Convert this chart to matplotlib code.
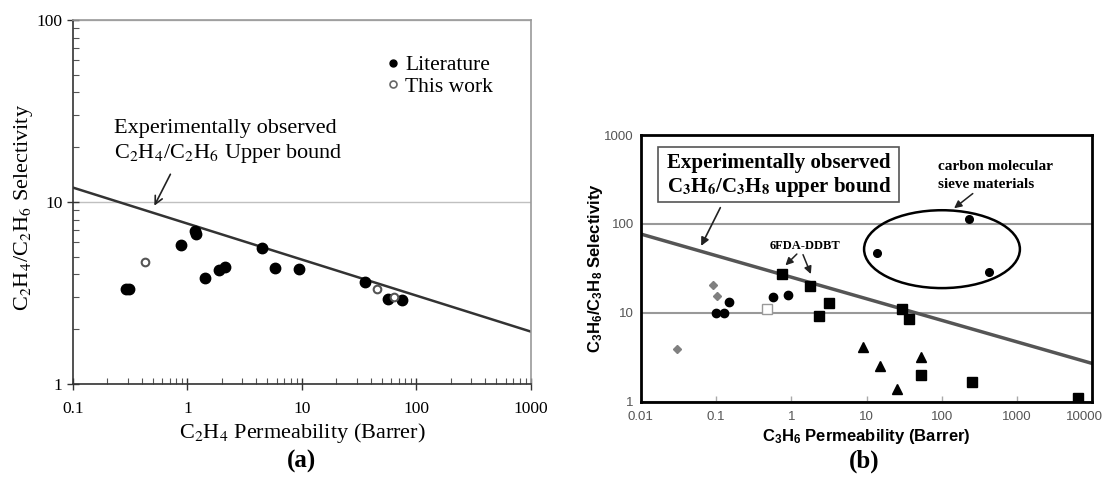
import matplotlib
matplotlib.use('Agg')
from matplotlib import pyplot as plt
from matplotlib.patches import Ellipse, Rectangle
from matplotlib.lines import Line2D
from matplotlib.ticker import NullLocator, NullFormatter
from matplotlib.transforms import ScaledTranslation

# panel (a): C2H4/C2H6 data
lit_perm = [0.29, 0.31, 0.87, 1.17, 1.19, 1.41, 1.90, 2.13, 4.46, 5.83, 9.38, 35.9, 56.6, 75.0]
lit_sel = [3.31, 3.31, 5.82, 6.95, 6.7, 3.82, 4.23, 4.41, 5.61, 4.32, 4.28, 3.62, 2.92, 2.89]
work_perm = [0.428, 45.0, 63.4]
work_sel = [4.66, 3.33, 3.02]
bound_a_perm = [0.1, 1000]
bound_a_sel = [12.0, 1.94]
ticks_a_x = [0.1, 1, 10, 100, 1000]
ticks_a_y = [1, 10, 100]

# panel (b): C3H6/C3H8 data
diamond_perm = [0.092, 0.102, 0.0306]
diamond_sel = [20.5, 15.6, 3.92]
circle_perm = [0.1, 0.129, 0.149, 0.577, 0.896]
circle_sel = [10.0, 10.0, 13.2, 15.2, 15.9]
open_sq_perm = [0.475]
open_sq_sel = [10.9]
square_perm = [0.761, 1.79, 2.31, 3.20, 29.5, 36.6, 52.8, 253, 6360]
square_sel = [27.3, 20.2, 9.2, 13.0, 10.9, 8.5, 2.0, 1.68, 1.09]
triangle_perm = [9.04, 15.2, 25.4, 52.3]
triangle_sel = [4.16, 2.50, 1.38, 3.16]
cms_perm = [13.9, 231, 423]
cms_sel = [47.4, 113, 29.0]
bound_b_perm = [0.01, 10000]
bound_b_sel = [77, 2.69]
ticks_b_x = [0.01, 0.1, 1, 10, 100, 1000, 10000]
ticks_b_y = [1, 10, 100, 1000]

# bold sans maths for panel (b) labels, stix for the serif texts
plt.rcParams['mathtext.fontset'] = 'custom'
plt.rcParams['mathtext.rm'] = 'Liberation Sans:bold'
plt.rcParams['mathtext.bf'] = 'Liberation Sans:bold'
plt.rcParams['mathtext.it'] = 'Liberation Sans:bold:italic'

SERIF = 'Liberation Serif'
SANS = 'Liberation Sans'


def tick_text(v):
    return ('%g' % v)


fig = plt.figure(figsize=(11.07, 4.8), dpi=100)
fig.set_facecolor('white')

# ---------------- panel (a) ----------------
ax = fig.add_axes([0.0659, 0.2, 0.4137, 0.7583])
ax.set_xscale('log')
ax.set_yscale('log')
ax.set_xlim(0.1, 1000)
ax.set_ylim(1, 100)
ax.set_xticks(ticks_a_x)
ax.set_xticklabels([tick_text(v) for v in ticks_a_x])
ax.set_yticks(ticks_a_y)
ax.set_yticklabels([tick_text(v) for v in ticks_a_y])
ax.xaxis.set_minor_formatter(NullFormatter())
ax.yaxis.set_minor_formatter(NullFormatter())
ax.tick_params(which='major', direction='inout', length=8, width=1, color='#333',
               labelsize=12.5, labelfontfamily=SERIF, labelcolor='black')
ax.tick_params(which='minor', direction='in', length=4, width=0.8, color='#555')
ax.tick_params(axis='x', pad=8)

for side in ['left', 'bottom']:
    ax.spines[side].set_color('#333')
    ax.spines[side].set_linewidth(1.2)
for side in ['top', 'right']:
    ax.spines[side].set_color('#999')
    ax.spines[side].set_linewidth(1.2)

ax.yaxis.grid(True, which='major', color='#c0c0c0', lw=1)
ax.set_axisbelow(True)

ax.plot(bound_a_perm, bound_a_sel, color='#333', lw=1.8, zorder=2)
ax.plot(lit_perm, lit_sel, 'o', color='black', ms=7.5, ls='none', zorder=3)
ax.plot(work_perm, work_sel, 'o', mfc='white', mec='#555', mew=1.5, ms=5.5,
        ls='none', zorder=4)

handles = [Line2D([], [], marker='o', ls='none', color='black', ms=5),
           Line2D([], [], marker='o', ls='none', mfc='white', mec='#666', mew=1.2, ms=5)]
ax.legend(handles, ['Literature', 'This work'], loc='upper left',
          bbox_to_anchor=(0.688, 0.903), frameon=False, handlelength=0.5,
          handletextpad=0.3, labelspacing=0.05, borderpad=0, borderaxespad=0,
          prop={'family': SERIF, 'size': 15.5})

ax.text(0.0895, 0.703, 'Experimentally observed', transform=ax.transAxes,
        family=SERIF, size=16, va='center', ha='left')
ax.text(0.0895, 0.632, r'C$_2$H$_4$/C$_2$H$_6$ Upper bound', transform=ax.transAxes,
        family=SERIF, size=16, va='center', ha='left', math_fontfamily='stix')
ax.annotate('', xy=(0.175, 0.483), xytext=(0.2155, 0.583),
            xycoords='axes fraction', textcoords='axes fraction',
            arrowprops=dict(arrowstyle='->', color='#222', lw=1.2, mutation_scale=14))

ax.set_xlabel(r'C$_2$H$_4$ Permeability (Barrer)', family=SERIF, size=16,
              math_fontfamily='stix', va='center')
ax.xaxis.set_label_coords(0.5, -0.135)
ax.set_ylabel(r'C$_2$H$_4$/C$_2$H$_6$ Selectivity', family=SERIF, size=16,
              math_fontfamily='stix', va='center')
ax.yaxis.set_label_coords(-0.108, 0.486)

fig.text(302 / 1107, 1 - 461 / 480, '(a)', ha='center', va='center',
         family=SERIF, weight='bold', size=18)

# ---------------- panel (b) ----------------
bx = fig.add_axes([0.5788, 0.1631, 0.408, 0.5556])
bx.set_xscale('log')
bx.set_yscale('log')
bx.set_xlim(0.01, 10000)
bx.set_ylim(1, 1000)
bx.set_xticks(ticks_b_x)
bx.set_xticklabels([tick_text(v) for v in ticks_b_x])
bx.set_yticks(ticks_b_y)
bx.set_yticklabels([tick_text(v) for v in ticks_b_y])
bx.xaxis.set_minor_locator(NullLocator())
bx.yaxis.set_minor_locator(NullLocator())
bx.tick_params(axis='x', direction='in', length=4, width=1, color='#aaa',
               labelsize=9.5, labelcolor='#555', labelfontfamily=SANS, pad=7)
bx.tick_params(axis='y', length=0, labelsize=9.5, labelcolor='#555',
               labelfontfamily=SANS, pad=5)
for side in bx.spines:
    bx.spines[side].set_color('black')
    bx.spines[side].set_linewidth(2)

# nudge the last x tick label so it stays inside the picture
last_label = bx.get_xticklabels()[-1]
last_label.set_transform(last_label.get_transform()
                         + ScaledTranslation(-6 / 72, 0, fig.dpi_scale_trans))

bx.yaxis.grid(True, which='major', color='#999', lw=1.5)
bx.set_axisbelow(True)

bx.plot(bound_b_perm, bound_b_sel, color='#555', lw=2.5, zorder=2)
bx.plot(diamond_perm, diamond_sel, 'D', color='#808080', ms=4.5, ls='none', zorder=3)
bx.plot(circle_perm, circle_sel, 'o', color='black', ms=6, ls='none', zorder=3)
bx.plot(open_sq_perm, open_sq_sel, 's', mfc='white', mec='#999', mew=1, ms=7,
        ls='none', zorder=3)
bx.plot(square_perm, square_sel, 's', color='black', ms=6.5, ls='none', zorder=3)
bx.plot(triangle_perm, triangle_sel, '^', color='black', ms=7, ls='none', zorder=3)
bx.plot(cms_perm, cms_sel, 'o', color='black', ms=5.5, ls='none', zorder=3)

bx.add_patch(Ellipse((0.667, 0.572), 0.345, 0.292, transform=bx.transAxes,
                     fill=False, ec='black', lw=1.8, zorder=4))
bx.add_patch(Rectangle((0.038, 0.749), 0.534, 0.206, transform=bx.transAxes,
                       fill=False, ec='#555', lw=1.2, zorder=4))

bx.text(0.058, 0.895, 'Experimentally observed', transform=bx.transAxes,
        family=SERIF, weight='bold', size=15, va='center', ha='left')
bx.text(0.058, 0.805,
        r'C$_\mathbf{3}$H$_\mathbf{6}$/C$_\mathbf{3}$H$_\mathbf{8}$ upper bound',
        transform=bx.transAxes, family=SERIF, weight='bold', size=15,
        va='center', ha='left', math_fontfamily='stix')
bx.annotate('', xy=(0.131, 0.575), xytext=(0.179, 0.737),
            xycoords='axes fraction', textcoords='axes fraction',
            arrowprops=dict(arrowstyle='-|>', color='#222', lw=1.2, mutation_scale=12))

bx.text(0.364, 0.584, '6FDA-DDBT', transform=bx.transAxes, family=SERIF,
        weight='bold', size=9, va='center', ha='center')
bx.annotate('', xy=(0.316, 0.504), xytext=(0.350, 0.561),
            xycoords='axes fraction', textcoords='axes fraction',
            arrowprops=dict(arrowstyle='-|>', color='#222', lw=1.1, mutation_scale=11))
bx.annotate('', xy=(0.379, 0.469), xytext=(0.357, 0.561),
            xycoords='axes fraction', textcoords='axes fraction',
            arrowprops=dict(arrowstyle='-|>', color='#222', lw=1.1, mutation_scale=11))

bx.text(0.658, 0.881, 'carbon molecular', transform=bx.transAxes, family=SERIF,
        weight='bold', size=11, va='center', ha='left')
bx.text(0.658, 0.813, 'sieve materials', transform=bx.transAxes, family=SERIF,
        weight='bold', size=11, va='center', ha='left')
bx.annotate('', xy=(0.689, 0.719), xytext=(0.740, 0.787),
            xycoords='axes fraction', textcoords='axes fraction',
            arrowprops=dict(arrowstyle='-|>', color='#222', lw=1.1, mutation_scale=11))

bx.set_xlabel(r'C$_\mathbf{3}$H$_\mathbf{6}$ Permeability (Barrer)', family=SANS,
              weight='bold', size=12, va='center')
bx.xaxis.set_label_coords(0.5, -0.132)
bx.set_ylabel(r'C$_\mathbf{3}$H$_\mathbf{6}$/C$_\mathbf{3}$H$_\mathbf{8}$ Selectivity',
              family=SANS, weight='bold', size=12, va='center')
bx.yaxis.set_label_coords(-0.101, 0.5)

fig.text(864 / 1107, 1 - 461 / 480, '(b)', ha='center', va='center',
         family=SERIF, weight='bold', size=18)

fig.savefig('out.png', dpi=100, facecolor='white')
